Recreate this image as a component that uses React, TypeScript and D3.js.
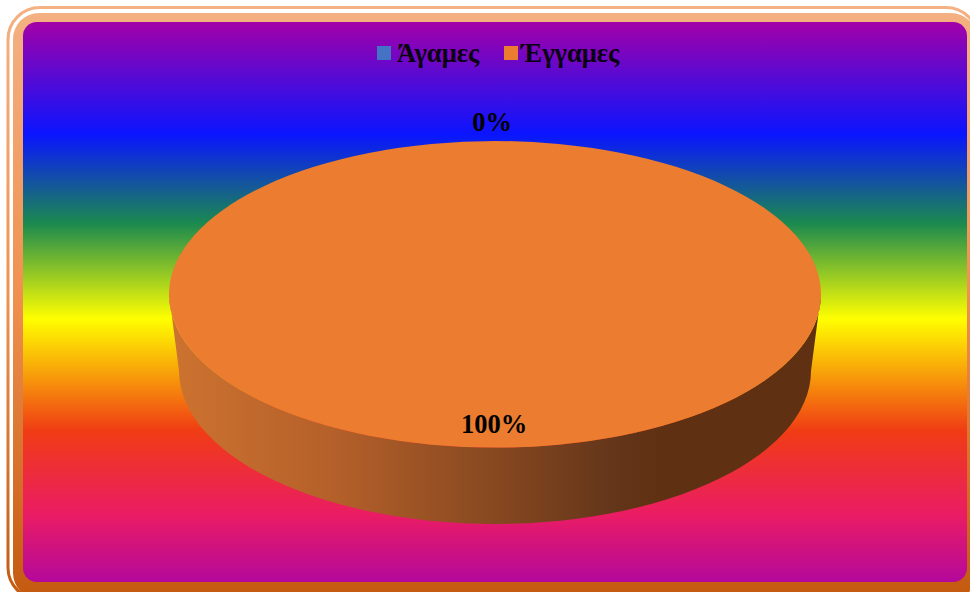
import React from "react";
import * as d3 from "d3";

const categories = ["Άγαμες", "Έγγαμες"];
const shares = [0, 100];
const sliceColors = ["#4472c4", "#eb7c30"];
const labelTexts = ["0%", "100%"];

const W = 970;
const H = 592;

// Rainbow backdrop of the plot panel, offset in panel height / colour
const panelStops: [number, string][] = [
  [0, "#a300a8"],
  [0.2, "#0a14ff"],
  [0.36, "#1b8a4e"],
  [0.53, "#ffff00"],
  [0.73, "#f03c14"],
  [0.88, "#ea1c64"],
  [1, "#b4089c"],
];
const frameStops: [number, string][] = [
  [0, "#f4b183"],
  [0.5, "#f0904f"],
  [1, "#c55a11"],
];
const wallStops: [number, string][] = [
  [0, "#cd7330"],
  [0.25, "#b5602a"],
  [0.5, "#874820"],
  [0.68, "#64361a"],
  [0.76, "#5f3011"],
  [1, "#5f3011"],
];

const top = { cx: 495, cy: 294.3, rx: 326, ry: 153.3 };
const base = { cx: 495, cy: 370.7, rx: 316, ry: 153.3 };

export default function App() {
  const pie = d3.pie<number>().sort(null).startAngle(0).endAngle(2 * Math.PI);
  const slices = pie(shares);

  // Unit-circle slice, stretched into the tilted disc by its transform
  const arc = d3.arc<d3.PieArcDatum<number>>().innerRadius(0).outerRadius(1);

  // Front half of the rim, walked along the top edge and back along the base
  const frontAngles = d3.range(0, 181, 3).map((deg) => (deg * Math.PI) / 180);
  const rimPoint = (e: typeof top) => (t: number): [number, number] => [
    e.cx + e.rx * Math.cos(t),
    e.cy + e.ry * Math.sin(t),
  ];
  const wallPath =
    d3.line()([
      ...frontAngles.map(rimPoint(top)),
      ...frontAngles.slice().reverse().map(rimPoint(base)),
    ]) + "Z";

  const legendItems = [
    { swatchX: 377, textX: 397 },
    { swatchX: 504, textX: 521 },
  ];
  const labelPos = [
    { x: 492, y: 131 },
    { x: 494, y: 433 },
  ];

  return (
    <svg
      width={W}
      height={H}
      style={{ position: "absolute", left: 0, top: 0, display: "block" }}
      fontFamily="'Liberation Serif', serif"
    >
      <defs>
        <linearGradient id="panel" gradientUnits="userSpaceOnUse" x1={0} x2={0} y1={22} y2={582}>
          {panelStops.map(([o, c]) => (
            <stop key={o} offset={o} stopColor={c} />
          ))}
        </linearGradient>
        <linearGradient id="frame" gradientUnits="userSpaceOnUse" x1={0} x2={0} y1={6} y2={592}>
          {frameStops.map(([o, c]) => (
            <stop key={o} offset={o} stopColor={c} />
          ))}
        </linearGradient>
        <linearGradient id="wall" gradientUnits="userSpaceOnUse" x1={170} x2={820} y1={0} y2={0}>
          {wallStops.map(([o, c]) => (
            <stop key={o} offset={o} stopColor={c} />
          ))}
        </linearGradient>
      </defs>

      <rect width={W} height={H} fill="#ffffff" />

      {/* Double frame: thin outer line, white gap, thick band */}
      <rect x={8} y={7.5} width={970} height={592} rx={32} fill="none" stroke="url(#frame)" strokeWidth={3} />
      <rect x={13} y={13} width={964} height={586} rx={26} fill="url(#frame)" />
      <rect x={23} y={22} width={944} height={560} rx={14} fill="url(#panel)" />

      {/* Legend */}
      {categories.map((name, i) => (
        <g key={name}>
          <rect x={legendItems[i].swatchX} y={46} width={14} height={14} fill={sliceColors[i]} />
          <text x={legendItems[i].textX} y={62} fontSize={26.5} fontWeight="bold" fill="#0a0010">
            {name}
          </text>
        </g>
      ))}

      {/* Disc wall and top face */}
      <path d={wallPath} fill="url(#wall)" />
      <g transform={`translate(${top.cx},${top.cy}) scale(${top.rx},${top.ry})`}>
        {slices.map((s, i) => (
          <path key={i} d={arc(s) ?? ""} fill={sliceColors[i]} />
        ))}
      </g>

      {/* Percentage labels */}
      {labelTexts.map((t, i) => (
        <text key={t} x={labelPos[i].x} y={labelPos[i].y} textAnchor="middle" fontSize={26.5} fontWeight="bold" fill="#000">
          {t}
        </text>
      ))}
    </svg>
  );
}
